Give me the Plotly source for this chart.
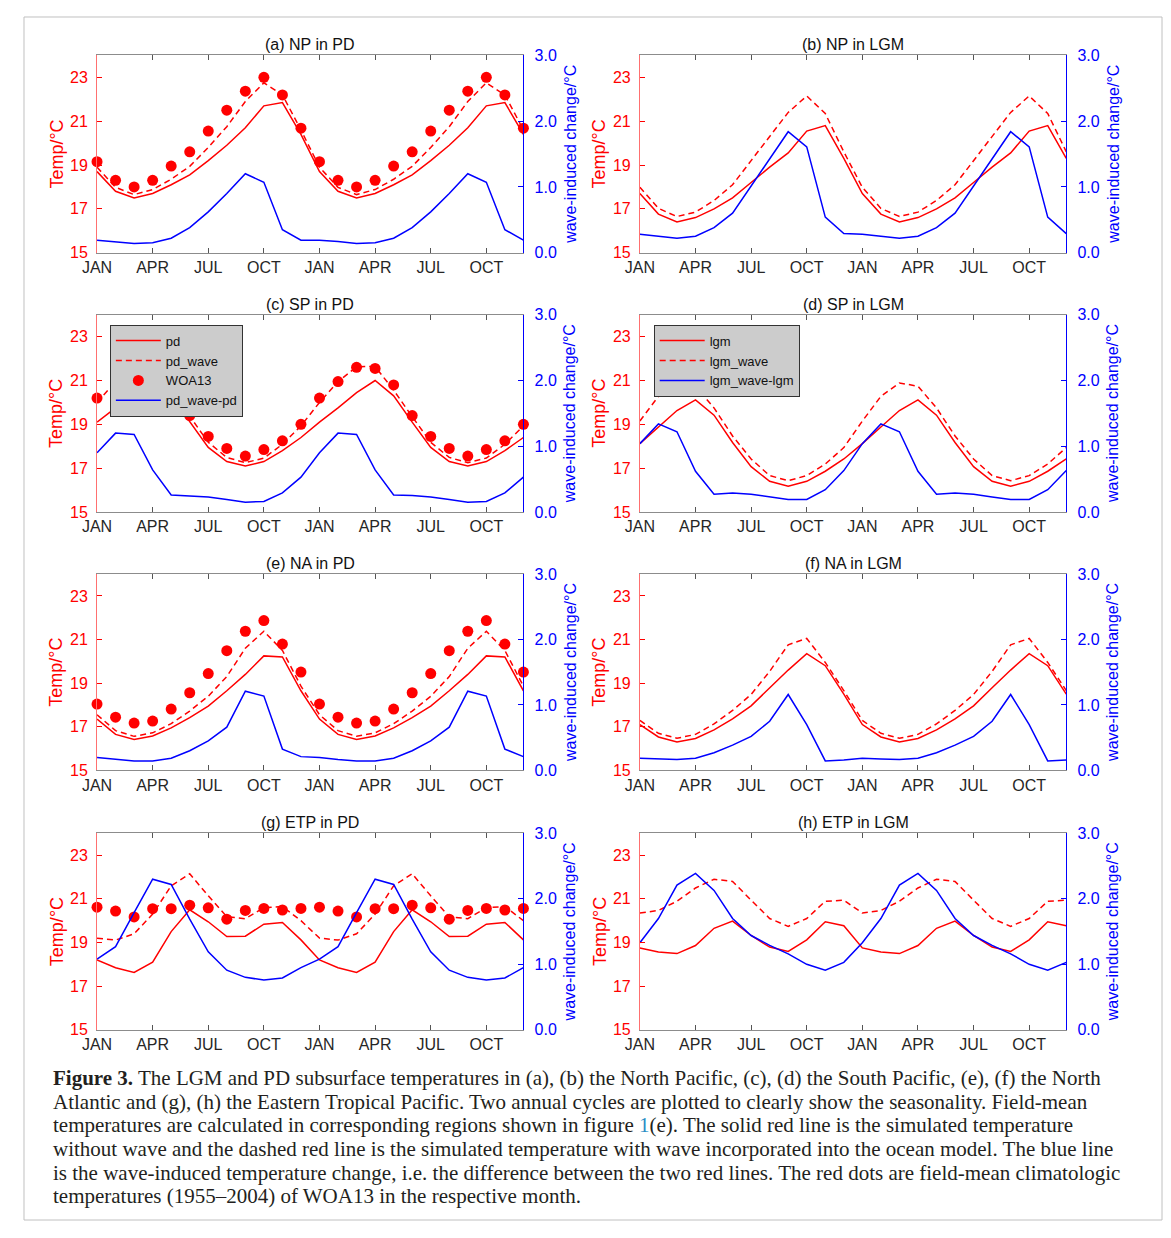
import plotly.graph_objects as go

# ---------------- data (one annual cycle, plotted twice) ----------------
month_labels = ["JAN", "APR", "JUL", "OCT", "JAN", "APR", "JUL", "OCT"]
month_ticks = [1, 4, 7, 10, 13, 16, 19, 22]

# (a) North Pacific, present day
NP_PD_pd = [18.7, 17.8, 17.5, 17.7, 18.1, 18.55, 19.2, 19.9, 20.7, 21.7, 21.85, 20.4]
NP_PD_wave = [18.9, 17.98, 17.65, 17.88, 18.35, 18.94, 19.8, 20.75, 21.9, 22.75, 22.2, 20.6]
NP_PD_diff = [0.19, 0.17, 0.14, 0.15, 0.22, 0.38, 0.62, 0.9, 1.2, 1.07, 0.35, 0.19]
NP_PD_woa = [19.15, 18.3, 18.0, 18.3, 18.95, 19.6, 20.55, 21.5, 22.37, 23.0, 22.2, 20.68]

# (b) North Pacific, LGM
NP_LGM_lgm = [17.7, 16.76, 16.4, 16.6, 17.0, 17.5, 18.2, 18.9, 19.55, 20.55, 20.8, 19.3]
NP_LGM_wave = [17.98, 17.02, 16.65, 16.85, 17.38, 18.1, 19.2, 20.32, 21.4, 22.15, 21.35, 19.6]
NP_LGM_diff = [0.28, 0.25, 0.22, 0.25, 0.38, 0.6, 1.01, 1.42, 1.84, 1.61, 0.54, 0.29]

# (c) South Pacific, present day
SP_PD_pd = [19.1, 19.75, 20.45, 21.0, 20.3, 19.1, 17.95, 17.3, 17.1, 17.3, 17.8, 18.4]
SP_PD_wave = [20.0, 20.95, 21.63, 21.64, 20.56, 19.35, 18.18, 17.49, 17.25, 17.46, 18.09, 18.93]
SP_PD_diff = [0.9, 1.2, 1.18, 0.64, 0.26, 0.25, 0.23, 0.19, 0.15, 0.16, 0.29, 0.53]
SP_PD_woa = [20.2, 20.95, 21.6, 21.55, 20.8, 19.4, 18.45, 17.9, 17.55, 17.85, 18.25, 19.0]

# (d) South Pacific, LGM
SP_LGM_lgm = [18.12, 18.88, 19.63, 20.12, 19.42, 18.17, 17.07, 16.4, 16.18, 16.4, 16.86, 17.42]
SP_LGM_wave = [19.15, 20.28, 20.89, 20.74, 19.75, 18.47, 17.42, 16.66, 16.43, 16.66, 17.19, 17.94]
SP_LGM_diff = [1.04, 1.34, 1.22, 0.62, 0.27, 0.29, 0.27, 0.23, 0.19, 0.19, 0.34, 0.63]

# (e) North Atlantic, present day
NA_PD_pd = [17.35, 16.65, 16.42, 16.58, 16.95, 17.42, 17.95, 18.65, 19.4, 20.25, 20.2, 18.65]
NA_PD_wave = [17.55, 16.82, 16.56, 16.72, 17.14, 17.72, 18.4, 19.3, 20.6, 21.38, 20.5, 18.86]
NA_PD_diff = [0.195, 0.165, 0.145, 0.145, 0.185, 0.3, 0.45, 0.66, 1.21, 1.135, 0.325, 0.21]
NA_PD_woa = [18.04, 17.44, 17.17, 17.26, 17.81, 18.56, 19.44, 20.49, 21.38, 21.87, 20.79, 19.51]

# (f) North Atlantic, LGM
NA_LGM_lgm = [17.1, 16.53, 16.3, 16.46, 16.86, 17.36, 17.96, 18.79, 19.6, 20.35, 19.8, 18.5]
NA_LGM_wave = [17.29, 16.7, 16.47, 16.65, 17.13, 17.75, 18.48, 19.54, 20.76, 21.05, 19.95, 18.66]
NA_LGM_diff = [0.185, 0.175, 0.165, 0.185, 0.27, 0.385, 0.52, 0.75, 1.16, 0.7, 0.145, 0.16]

# (g) Eastern Tropical Pacific, present day
ETP_PD_pd = [18.2, 17.84, 17.63, 18.1, 19.5, 20.5, 19.95, 19.27, 19.29, 19.84, 19.92, 19.12]
ETP_PD_wave = [19.2, 19.11, 19.4, 20.3, 21.6, 22.15, 21.14, 20.18, 20.09, 20.6, 20.65, 20.0]
ETP_PD_diff = [1.08, 1.27, 1.79, 2.3, 2.22, 1.69, 1.19, 0.91, 0.8, 0.76, 0.79, 0.95]
ETP_PD_woa = [20.62, 20.44, 20.17, 20.55, 20.55, 20.71, 20.59, 20.07, 20.47, 20.56, 20.49, 20.56]

# (h) Eastern Tropical Pacific, LGM
ETP_LGM_lgm = [18.75, 18.56, 18.49, 18.86, 19.65, 19.98, 19.32, 18.79, 18.59, 19.12, 19.95, 19.77]
ETP_LGM_wave = [20.35, 20.47, 20.89, 21.5, 21.9, 21.8, 20.94, 20.1, 19.74, 20.1, 20.89, 20.94]
ETP_LGM_diff = [1.33, 1.7, 2.21, 2.39, 2.13, 1.7, 1.44, 1.29, 1.16, 1.0, 0.91, 1.03]

caption_lines = [
    "<b>Figure 3.</b> The LGM and PD subsurface temperatures in (a), (b) the North Pacific, (c), (d) the South Pacific, (e), (f) the North",
    "Atlantic and (g), (h) the Eastern Tropical Pacific. Two annual cycles are plotted to clearly show the seasonality. Field-mean",
    "temperatures are calculated in corresponding regions shown in figure <span style='color:#2a8cc4'>1</span>(e). The solid red line is the simulated temperature",
    "without wave and the dashed red line is the simulated temperature with wave incorporated into the ocean model. The blue line",
    "is the wave-induced temperature change, i.e. the difference between the two red lines. The red dots are field-mean climatologic",
    "temperatures (1955\u20132004) of WOA13 in the respective month.",
]

panels = [
    dict(title="(a) NP in PD", solid=NP_PD_pd, dashed=NP_PD_wave, diff=NP_PD_diff, dots=NP_PD_woa, legend=None,
         names=("pd", "pd_wave", "WOA13", "pd_wave-pd")),
    dict(title="(b) NP in LGM", solid=NP_LGM_lgm, dashed=NP_LGM_wave, diff=NP_LGM_diff, dots=None, legend=None,
         names=("lgm", "lgm_wave", None, "lgm_wave-lgm")),
    dict(title="(c) SP in PD", solid=SP_PD_pd, dashed=SP_PD_wave, diff=SP_PD_diff, dots=SP_PD_woa, legend="legend",
         names=("pd", "pd_wave", "WOA13", "pd_wave-pd")),
    dict(title="(d) SP in LGM", solid=SP_LGM_lgm, dashed=SP_LGM_wave, diff=SP_LGM_diff, dots=None, legend="legend2",
         names=("lgm", "lgm_wave", None, "lgm_wave-lgm")),
    dict(title="(e) NA in PD", solid=NA_PD_pd, dashed=NA_PD_wave, diff=NA_PD_diff, dots=NA_PD_woa, legend=None,
         names=("pd", "pd_wave", "WOA13", "pd_wave-pd")),
    dict(title="(f) NA in LGM", solid=NA_LGM_lgm, dashed=NA_LGM_wave, diff=NA_LGM_diff, dots=None, legend=None,
         names=("lgm", "lgm_wave", None, "lgm_wave-lgm")),
    dict(title="(g) ETP in PD", solid=ETP_PD_pd, dashed=ETP_PD_wave, diff=ETP_PD_diff, dots=ETP_PD_woa, legend=None,
         names=("pd", "pd_wave", "WOA13", "pd_wave-pd")),
    dict(title="(h) ETP in LGM", solid=ETP_LGM_lgm, dashed=ETP_LGM_wave, diff=ETP_LGM_diff, dots=None, legend=None,
         names=("lgm", "lgm_wave", None, "lgm_wave-lgm")),
]

# ---------------- layout geometry (screen pixels; page body keeps its 8px margin) ----------------
PAGE_W, PAGE_H = 1171, 1238
OFF = 8
W, H = PAGE_W - 2 * OFF, PAGE_H - 2 * OFF
col_x = [(83, 515), (633, 1065)]
row_y = [(48, 248), (311, 511), (574, 773), (837, 1036)]
RED = "#ff0000"
BLUE = "#0000ff"
DARK = "#262626"
SANS = "Liberation Sans, Arial, sans-serif"


def fx(x):
    return (x - OFF) / W


def fy(y):
    return 1 - (y - OFF) / H


def two_cycles(v):
    return list(v) + list(v)


months_x = list(range(1, 25))

fig = go.Figure()
layout = dict(
    width=W, height=H,
    margin=dict(l=0, r=0, t=0, b=0),
    paper_bgcolor="white", plot_bgcolor="white",
    font=dict(family=SANS, size=16, color=DARK),
    showlegend=True,
)
annotations = []

for k, p in enumerate(panels):
    r, c = divmod(k, 2)
    x0, x1 = col_x[c]
    y0, y1 = row_y[r]
    xa = "x" if k == 0 else f"x{k+1}"
    yl_id = 2 * k + 1
    yr_id = 2 * k + 2
    yl = "y" if yl_id == 1 else f"y{yl_id}"
    yr = f"y{yr_id}"
    leg = p["legend"]
    show = leg is not None
    extra = dict(legend=leg) if show else {}

    fig.add_trace(go.Scatter(x=months_x, y=two_cycles(p["solid"]), xaxis=xa, yaxis=yl, mode="lines",
                             line=dict(color=RED, width=1.5), name=p["names"][0], showlegend=show, **extra))
    fig.add_trace(go.Scatter(x=months_x, y=two_cycles(p["dashed"]), xaxis=xa, yaxis=yl, mode="lines",
                             line=dict(color=RED, width=1.5, dash="6px,4px"), name=p["names"][1],
                             showlegend=show, **extra))
    if p["dots"] is not None:
        fig.add_trace(go.Scatter(x=months_x, y=two_cycles(p["dots"]), xaxis=xa, yaxis=yl, mode="markers",
                                 marker=dict(color=RED, size=11), cliponaxis=False, name=p["names"][2],
                                 showlegend=show, **extra))
    fig.add_trace(go.Scatter(x=months_x, y=two_cycles(p["diff"]), xaxis=xa, yaxis=yr, mode="lines",
                             line=dict(color=BLUE, width=1.5), name=p["names"][3], showlegend=show, **extra))

    xkey = "xaxis" if k == 0 else f"xaxis{k+1}"
    ylkey = "yaxis" if yl_id == 1 else f"yaxis{yl_id}"
    yrkey = f"yaxis{yr_id}"
    layout[xkey] = dict(
        domain=[fx(x0), fx(x1)], range=[1, 24], anchor=yl,
        tickmode="array", tickvals=month_ticks, ticktext=month_labels,
        ticks="inside", ticklen=5, tickcolor="#555555",
        showline=True, linecolor="#8c8c8c", linewidth=1, mirror="ticks",
        showgrid=False, zeroline=False,
        tickfont=dict(size=16, color=DARK, family=SANS),
    )
    layout[ylkey] = dict(
        domain=[fy(y1), fy(y0)], range=[15, 24], anchor=xa,
        tickmode="array", tickvals=[15, 17, 19, 21, 23],
        ticks="inside", ticklen=5, tickcolor=RED,
        showline=True, linecolor="#ff7070", linewidth=1,
        showgrid=False, zeroline=False, ticklabelstandoff=5,
        tickfont=dict(size=16, color=RED, family=SANS),
    )
    layout[yrkey] = dict(
        overlaying=yl, side="right", range=[0, 3], anchor=xa,
        tickmode="array", tickvals=[0, 1, 2, 3], tickformat=".1f",
        ticks="inside", ticklen=5, tickcolor=BLUE,
        showline=True, linecolor=BLUE, linewidth=1,
        showgrid=False, zeroline=False, ticklabelstandoff=7,
        tickfont=dict(size=16, color=BLUE, family=SANS),
    )
    annotations.append(dict(text=p["title"], x=fx((x0 + x1) / 2), y=fy(y0), xref="paper", yref="paper",
                            xanchor="center", yanchor="bottom", showarrow=False,
                            font=dict(size=16, color="#111111", family=SANS)))
    annotations.append(dict(text="Temp/\u00b0C", x=fx(x0 - 41), y=fy((y0 + y1) / 2), xref="paper", yref="paper",
                            xanchor="center", yanchor="middle", textangle=-90, showarrow=False,
                            font=dict(size=18, color=RED, family=SANS)))
    annotations.append(dict(text="wave-induced change/\u00b0C", x=fx(x1 + 47), y=fy((y0 + y1) / 2),
                            xref="paper", yref="paper", xanchor="center", yanchor="middle", textangle=-90,
                            showarrow=False, font=dict(size=16, color=BLUE, family=SANS)))

for i, line in enumerate(caption_lines):
    annotations.append(dict(text=line, x=fx(36), y=fy(1085 + 24 * i), xref="paper", yref="paper",
                            xanchor="left", yanchor="middle", showarrow=False, align="left",
                            font=dict(size=21, color="#231f20", family="Liberation Serif, Times New Roman, serif")))

layout["annotations"] = annotations
layout["legend"] = dict(x=fx(96), y=fy(321), xanchor="left", yanchor="top", bgcolor="#cccccc",
                        bordercolor="#333333", borderwidth=1, font=dict(size=13, color="#111111", family=SANS),
                        itemwidth=45, tracegroupgap=0, itemclick=False)
layout["legend2"] = dict(x=fx(647), y=fy(321), xanchor="left", yanchor="top", bgcolor="#cccccc",
                         bordercolor="#333333", borderwidth=1, font=dict(size=13, color="#111111", family=SANS),
                         itemwidth=45, tracegroupgap=0, itemclick=False)
layout["shapes"] = [
    dict(type="rect", xref="paper", yref="paper", x0=fx(9), x1=fx(1162), y0=fy(1229), y1=fy(9),
         line=dict(color="#c0c0c0", width=1), fillcolor="rgba(0,0,0,0)", layer="below"),
]

fig.update_layout(**layout)
fig.write_html("out.html", config={"displayModeBar": False})
